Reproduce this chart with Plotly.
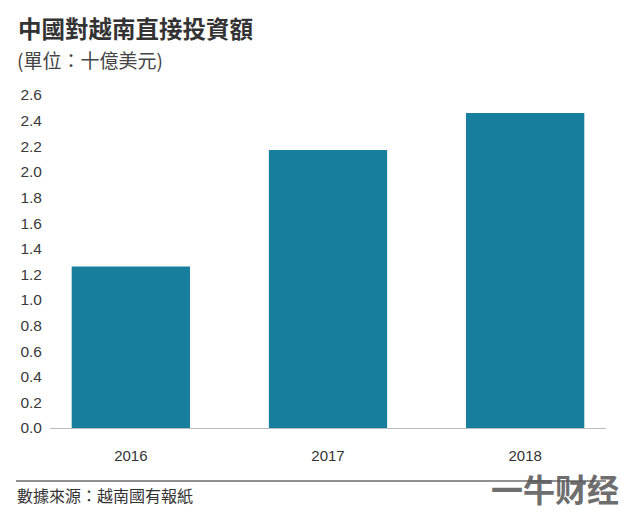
import plotly.graph_objects as go

years = ["2016", "2017", "2018"]
values = [1.26, 2.17, 2.46]
y_ticks = [0.0, 0.2, 0.4, 0.6, 0.8, 1.0, 1.2, 1.4, 1.6, 1.8, 2.0, 2.2, 2.4, 2.6]

title_text = "中國對越南直接投資額"
subtitle_text = "(單位：十億美元)"
source_text = "數據來源：越南國有報紙"
watermark_text = "一牛财经"

W, H = 622, 514
L, R, T, B = 50, 16, 95, 86
ph = H - T - B
pw = W - L - R

def py(pix):
    return (H - B - pix) / ph

def px(pix):
    return (pix - L) / pw

FONT = "Liberation Sans, Arial, Noto Sans CJK TC, sans-serif"
CJK = "Noto Sans CJK TC, Liberation Sans, sans-serif"

fig = go.Figure(go.Bar(
    x=years, y=values,
    marker=dict(color="#187e9e", line=dict(width=0)),
    width=0.6,
))

fig.update_layout(
    width=W, height=H,
    margin=dict(l=L, r=R, t=T, b=B),
    paper_bgcolor="white", plot_bgcolor="white",
    showlegend=False,
    font=dict(family=FONT, color="#333333", size=15),
    xaxis=dict(
        type="category", range=[-0.41, 2.41],
        showgrid=False, zeroline=False,
        showline=True, linecolor="#bbbbbb", linewidth=1,
        ticks="", tickfont=dict(size=15, color="#333333"),
        ticklabelstandoff=14,
    ),
    yaxis=dict(
        range=[0, 2.6], tickvals=y_ticks,
        ticktext=[f"{v:.1f}" for v in y_ticks],
        showgrid=False, zeroline=False, showline=False,
        ticks="", tickfont=dict(size=15.5, color="#3a3a3a"),
        ticklabelstandoff=7,
    ),
    annotations=[
        dict(text="<b>" + title_text + "</b>", xref="paper", yref="paper",
             x=px(16), y=py(28), xanchor="left", yanchor="middle",
             showarrow=False, font=dict(family=CJK, size=23.5, color="#333333")),
        dict(text=subtitle_text, xref="paper", yref="paper",
             x=px(15), y=py(59), xanchor="left", yanchor="middle",
             showarrow=False, font=dict(family=CJK, size=19, color="#444444")),
        dict(text=source_text, xref="paper", yref="paper",
             x=px(15), y=py(495), xanchor="left", yanchor="middle",
             showarrow=False, font=dict(family=CJK, size=16, color="#333333")),
        dict(text="<b>" + watermark_text + "</b>", xref="paper", yref="paper",
             x=px(621), y=py(488), xanchor="right", yanchor="middle",
             showarrow=False, font=dict(family=CJK, size=32, color="#555555"),
             opacity=0.85),
    ],
    shapes=[
        dict(type="line", xref="paper", yref="paper",
             x0=px(16), x1=1.0, y0=py(481), y1=py(481),
             line=dict(color="#222222", width=1)),
    ],
)

fig.write_html("out.html")
